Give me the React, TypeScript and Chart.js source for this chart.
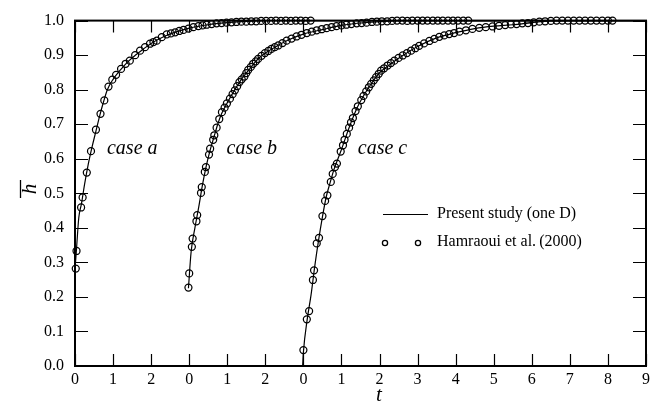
import React, { useEffect, useRef } from "react";
import { Chart, registerables } from "chart.js";

Chart.register(...registerables);

// x axis runs over 15 unit slots; each case restarts its own t = 0 origin
const xTickLabels = ["0", "1", "2", "0", "1", "2", "0", "1", "2", "3", "4", "5", "6", "7", "8", "9"];
const caseOrigins = [0, 3, 6];
const caseNames = ["case a", "case b", "case c"];

// Hamraoui et al. (2000) measurements, local time t and mean height h
const expA_t = [0.02, 0.04, 0.16, 0.2, 0.31, 0.42, 0.55, 0.67, 0.77, 0.88, 0.98, 1.08, 1.21, 1.33, 1.44, 1.58, 1.71, 1.84, 1.97, 2.06, 2.15, 2.28, 2.41, 2.52, 2.63, 2.74, 2.85, 2.98, 3.11, 3.24, 3.35, 3.46, 3.59, 3.72, 3.85, 3.98, 4.11, 4.24, 4.37, 4.5, 4.63, 4.76, 4.89, 5.02, 5.15, 5.28, 5.41, 5.54, 5.67, 5.8, 5.93, 6.06, 6.19];
const expA_h = [0.282, 0.333, 0.459, 0.488, 0.56, 0.622, 0.684, 0.73, 0.769, 0.809, 0.829, 0.843, 0.86, 0.875, 0.884, 0.9, 0.913, 0.923, 0.933, 0.938, 0.942, 0.952, 0.96, 0.963, 0.966, 0.97, 0.973, 0.977, 0.981, 0.984, 0.986, 0.988, 0.99, 0.992, 0.993, 0.994, 0.995, 0.996, 0.997, 0.997, 0.998, 0.998, 0.999, 0.999, 0.999, 1.0, 0.999, 1.0, 0.999, 1.0, 1.0, 0.999, 1.0];

const expB_t = [-0.02, 0.0, 0.07, 0.09, 0.19, 0.21, 0.31, 0.33, 0.41, 0.44, 0.52, 0.55, 0.63, 0.66, 0.72, 0.79, 0.86, 0.93, 0.99, 1.07, 1.14, 1.2, 1.26, 1.32, 1.38, 1.45, 1.5, 1.55, 1.62, 1.68, 1.75, 1.81, 1.9, 1.99, 2.08, 2.16, 2.25, 2.34, 2.45, 2.56, 2.69, 2.82, 2.95, 3.09, 3.22, 3.35, 3.48, 3.61, 3.74, 3.87, 4.0, 4.13, 4.26, 4.4, 4.53, 4.66, 4.8, 4.93, 5.06, 5.2, 5.33, 5.46, 5.6, 5.73, 5.86, 6.0, 6.13, 6.26, 6.4, 6.53, 6.66, 6.8, 6.93, 7.06, 7.2, 7.33];
const expB_h = [0.227, 0.268, 0.345, 0.369, 0.419, 0.437, 0.501, 0.518, 0.562, 0.576, 0.612, 0.629, 0.655, 0.668, 0.69, 0.715, 0.735, 0.748, 0.76, 0.774, 0.787, 0.798, 0.81, 0.822, 0.83, 0.838, 0.848, 0.857, 0.866, 0.875, 0.882, 0.889, 0.898, 0.906, 0.912, 0.918, 0.923, 0.928, 0.935, 0.942, 0.948, 0.954, 0.959, 0.964, 0.968, 0.972, 0.975, 0.978, 0.981, 0.984, 0.986, 0.988, 0.99, 0.992, 0.993, 0.994, 0.996, 0.997, 0.998, 0.998, 0.999, 1.0, 1.0, 0.999, 1.0, 1.0, 1.0, 1.0, 1.0, 1.0, 1.0, 1.0, 1.0, 1.0, 1.0, 1.0];

const expC_t = [0.0, 0.09, 0.15, 0.25, 0.28, 0.35, 0.41, 0.5, 0.57, 0.63, 0.72, 0.77, 0.83, 0.88, 0.98, 1.04, 1.08, 1.14, 1.2, 1.25, 1.3, 1.37, 1.43, 1.52, 1.58, 1.65, 1.72, 1.78, 1.85, 1.91, 1.98, 2.04, 2.12, 2.21, 2.3, 2.39, 2.5, 2.61, 2.72, 2.83, 2.94, 3.04, 3.17, 3.31, 3.44, 3.57, 3.7, 3.83, 3.96, 4.1, 4.27, 4.44, 4.62, 4.79, 4.97, 5.14, 5.3, 5.45, 5.6, 5.75, 5.9, 6.05, 6.2, 6.35, 6.5, 6.65, 6.8, 6.95, 7.1, 7.25, 7.4, 7.55, 7.7, 7.85, 8.0, 8.12];
const expC_h = [0.046, 0.135, 0.159, 0.249, 0.277, 0.355, 0.371, 0.434, 0.478, 0.494, 0.533, 0.556, 0.576, 0.586, 0.621, 0.639, 0.655, 0.672, 0.69, 0.705, 0.718, 0.738, 0.752, 0.77, 0.782, 0.795, 0.807, 0.817, 0.827, 0.836, 0.846, 0.855, 0.862, 0.87, 0.877, 0.884, 0.892, 0.899, 0.906, 0.913, 0.92, 0.927, 0.934, 0.941, 0.947, 0.953, 0.957, 0.961, 0.964, 0.968, 0.972, 0.976, 0.979, 0.981, 0.983, 0.985, 0.987, 0.989, 0.99, 0.992, 0.993, 0.995, 0.997, 0.998, 0.999, 1.0, 1.0, 1.0, 1.0, 1.0, 1.0, 1.0, 1.0, 1.0, 1.0, 1.0];

// Present study (one D) model curves
const modelA_t = [0.0, 0.04, 0.1, 0.17, 0.25, 0.35, 0.45, 0.55, 0.65, 0.75, 0.85, 1.0, 1.2, 1.4, 1.6, 1.8, 2.0, 2.3, 2.6, 3.0, 3.5, 4.0, 4.5, 5.0, 15.0];
const modelA_h = [0.28, 0.34, 0.43, 0.47, 0.525, 0.585, 0.635, 0.68, 0.725, 0.765, 0.8, 0.83, 0.858, 0.882, 0.901, 0.918, 0.934, 0.952, 0.965, 0.978, 0.988, 0.994, 0.998, 1.0, 1.0];

const modelB_t = [-0.02, 0.05, 0.15, 0.25, 0.35, 0.45, 0.55, 0.65, 0.75, 0.85, 1.0, 1.2, 1.4, 1.6, 1.8, 2.0, 2.3, 2.6, 3.0, 3.5, 4.0, 4.5, 5.0, 5.5, 12.0];
const modelB_h = [0.225, 0.33, 0.4, 0.46, 0.525, 0.58, 0.625, 0.663, 0.7, 0.73, 0.762, 0.8, 0.834, 0.862, 0.888, 0.906, 0.926, 0.944, 0.961, 0.974, 0.986, 0.993, 0.997, 1.0, 1.0];

const modelC_t = [-0.02, 0.0, 0.1, 0.2, 0.3, 0.4, 0.5, 0.6, 0.7, 0.8, 0.9, 1.0, 1.2, 1.4, 1.6, 1.8, 2.0, 2.3, 2.6, 3.0, 3.5, 4.0, 4.5, 5.0, 5.5, 6.0, 6.5, 7.0, 9.0];
const modelC_h = [0.0, 0.04, 0.135, 0.205, 0.29, 0.365, 0.432, 0.49, 0.53, 0.568, 0.598, 0.627, 0.69, 0.745, 0.786, 0.82, 0.849, 0.875, 0.898, 0.925, 0.95, 0.965, 0.977, 0.984, 0.988, 0.994, 0.999, 1.0, 1.0];

const expT = [expA_t, expB_t, expC_t];
const expH = [expA_h, expB_h, expC_h];
const modelT = [modelA_t, modelB_t, modelC_t];
const modelH = [modelA_h, modelB_h, modelC_h];

// where each "case" caption sits, in axis units
const captionX = [0.84, 3.98, 7.43];
const captionY = 0.63;

const SERIF = "'Liberation Serif', 'Times New Roman', serif";

const toPoints = (origin: number, ts: number[], hs: number[]) =>
  ts.map((t, i) => ({ x: origin + t, y: hs[i] }));

const framePlugin = {
  id: "frameAndNotes",
  afterDatasetsDraw(chart: any) {
    const { ctx, chartArea } = chart;
    const { left, right, top, bottom } = chartArea;
    const xs = chart.scales.x;
    const ys = chart.scales.y;
    ctx.save();
    ctx.strokeStyle = "#000";
    ctx.fillStyle = "#000";

    // frame
    ctx.lineWidth = 2;
    ctx.strokeRect(left, top, right - left, bottom - top);

    // inward tick marks on all four sides
    ctx.lineWidth = 1.2;
    ctx.beginPath();
    xs.ticks.forEach((tk: any) => {
      const px = Math.round(xs.getPixelForValue(tk.value)) + 0.5;
      ctx.moveTo(px, bottom);
      ctx.lineTo(px, bottom - 12);
      ctx.moveTo(px, top);
      ctx.lineTo(px, top + 12);
    });
    ys.ticks.forEach((tk: any) => {
      const py = Math.round(ys.getPixelForValue(tk.value)) + 0.5;
      ctx.moveTo(left, py);
      ctx.lineTo(left + 13, py);
      ctx.moveTo(right, py);
      ctx.lineTo(right - 13, py);
    });
    ctx.stroke();

    // case captions
    ctx.font = `italic 20px ${SERIF}`;
    ctx.textAlign = "left";
    ctx.textBaseline = "middle";
    caseNames.forEach((name, i) => {
      ctx.fillText(name, xs.getPixelForValue(captionX[i]), ys.getPixelForValue(captionY));
    });

    // legend
    ctx.font = `16px ${SERIF}`;
    ctx.lineWidth = 1;
    ctx.beginPath();
    ctx.moveTo(383, 214.5);
    ctx.lineTo(428, 214.5);
    ctx.stroke();
    ctx.fillText("Present study (one D)", 437, 214);
    ctx.lineWidth = 1.3;
    [385, 418].forEach((cx) => {
      ctx.beginPath();
      ctx.arc(cx, 243, 2.6, 0, Math.PI * 2);
      ctx.stroke();
    });
    ctx.fillText("Hamraoui et al.\u2009(2000)", 437, 242);

    // axis titles
    ctx.font = `italic 21px ${SERIF}`;
    ctx.textAlign = "center";
    ctx.fillText("t", 379, 395);

    ctx.save();
    ctx.translate(30, 189);
    ctx.rotate(-Math.PI / 2);
    ctx.fillText("h", 0, 0);
    ctx.restore();
    ctx.lineWidth = 1.3;
    ctx.beginPath();
    ctx.moveTo(20.5, 180);
    ctx.lineTo(20.5, 198);
    ctx.stroke();

    ctx.restore();
  },
};

export default function App() {
  const canvasRef = useRef<HTMLCanvasElement | null>(null);

  useEffect(() => {
    if (!canvasRef.current) return;

    const modelSets = caseOrigins.map((o, i) => ({
      label: "Present study (one D)",
      data: toPoints(o, modelT[i], modelH[i]),
      showLine: true,
      borderColor: "#000",
      borderWidth: 1.2,
      pointRadius: 0,
      cubicInterpolationMode: "monotone" as const,
      clip: 4,
    }));
    const expSets = caseOrigins.map((o, i) => ({
      label: "Hamraoui et al. (2000)",
      data: toPoints(o, expT[i], expH[i]),
      showLine: false,
      borderColor: "#000",
      backgroundColor: "rgba(0,0,0,0)",
      pointRadius: 3.5,
      pointBorderWidth: 1.25,
      pointStyle: "circle" as const,
      clip: 8,
    }));

    const chart = new Chart(canvasRef.current, {
      type: "scatter",
      data: { datasets: [...modelSets, ...expSets] },
      options: {
        animation: false,
        responsive: false,
        devicePixelRatio: 1,
        layout: { padding: { left: 0, right: 10, top: 20, bottom: 0 } },
        plugins: { legend: { display: false }, tooltip: { enabled: false } },
        scales: {
          x: {
            type: "linear",
            min: 0,
            max: 15,
            grid: { display: false, drawTicks: false },
            border: { display: false },
            afterFit: (s: any) => {
              s.height = 44;
            },
            ticks: {
              stepSize: 1,
              padding: 4,
              color: "#000",
              font: { family: SERIF, size: 16 },
              callback: (v: any) => xTickLabels[Math.round(Number(v))] ?? "",
            },
          },
          y: {
            type: "linear",
            min: 0,
            max: 1,
            grid: { display: false, drawTicks: false },
            border: { display: false },
            afterFit: (s: any) => {
              s.width = 75;
            },
            ticks: {
              stepSize: 0.1,
              padding: 11,
              color: "#000",
              font: { family: SERIF, size: 16 },
              callback: (v: any) => Number(v).toFixed(1),
            },
          },
        },
      },
      plugins: [framePlugin],
    });

    return () => chart.destroy();
  }, []);

  return (
    <div style={{ position: "absolute", left: 0, top: 0, width: 656, height: 410, background: "#fff" }}>
      <canvas ref={canvasRef} width={656} height={410} />
    </div>
  );
}
